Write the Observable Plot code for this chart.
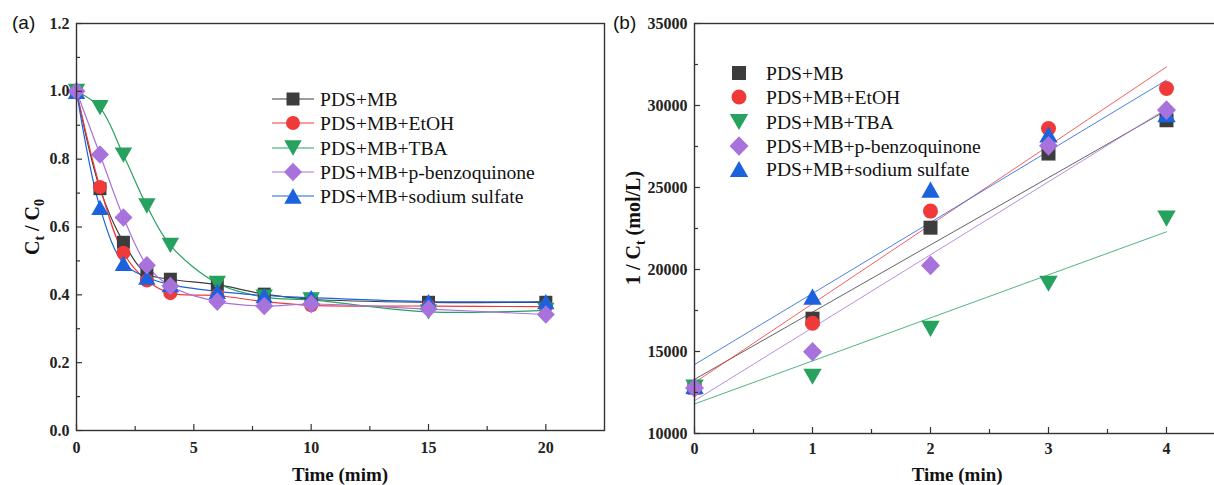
<!DOCTYPE html>
<html><head><meta charset="utf-8">
<script src="https://cdn.jsdelivr.net/npm/d3@7"></script>
<script src="https://cdn.jsdelivr.net/npm/@observablehq/plot@0.6"></script>
<style>
html,body{margin:0;padding:0;background:#fff;}
#wrap{position:relative;width:1214px;height:485px;overflow:hidden;background:#fff;}
#wrap svg{position:absolute;top:0;overflow:visible;}
</style></head><body><div id="wrap"></div>
<script>
// ---------- data ----------
const seriesNames = ["PDS+MB", "PDS+MB+EtOH", "PDS+MB+TBA", "PDS+MB+p-benzoquinone", "PDS+MB+sodium sulfate"];
const seriesColors = ["#3d3d3d", "#f03a3a", "#26a25e", "#a872dc", "#1c62de"];

// panel (a): Ct/C0 vs time (min)
const timeA = [0, 1, 2, 3, 4, 6, 8, 10, 15, 20];
const ratioMB      = [1.0, 0.713, 0.555, 0.462, 0.446, 0.430, 0.402, 0.387, 0.378, 0.378];
const ratioEtOH    = [1.0, 0.718, 0.524, 0.442, 0.405, 0.398, 0.380, 0.369, 0.367, 0.365];
const ratioTBA     = [1.0, 0.952, 0.812, 0.662, 0.546, 0.434, 0.393, 0.385, 0.350, 0.354];
const ratioPBQ     = [1.0, 0.814, 0.628, 0.487, 0.426, 0.380, 0.367, 0.373, 0.358, 0.342];
const ratioNa2SO4  = [1.0, 0.658, 0.493, 0.452, 0.430, 0.410, 0.398, 0.392, 0.380, 0.380];
const ticksXA = [0, 5, 10, 15, 20];
const minorXA = [2.5, 7.5, 12.5, 17.5];
const ticksYA = [0, 0.2, 0.4, 0.6, 0.8, 1.0, 1.2];
const minorYA = [0.1, 0.3, 0.5, 0.7, 0.9, 1.1];

// panel (b): 1/Ct vs time (min)
const timeB = [0, 1, 2, 3, 4];
const invMB      = [12800, 17000, 22550, 27070, 29100];
const invEtOH    = [12800, 16720, 23560, 28600, 31040];
const invTBA     = [12800, 13460, 16380, 19130, 23100];
const invPBQ     = [12770, 14990, 20250, 27540, 29720];
const invNa2SO4  = [12900, 18350, 24870, 28230, 29470];
// fitted lines: value at t = 0 and t = 4
const fitStartB = [13300, 13100, 11800, 12000, 14200];
const fitEndB   = [29700, 32350, 22300, 29800, 31550];
const ticksXB = [0, 1, 2, 3, 4];
const minorXB = [0.5, 1.5, 2.5, 3.5];
const ticksYB = [10000, 15000, 20000, 25000, 30000, 35000];
const minorYB = [12500, 17500, 22500, 27500, 32500];

// ---------- symbols ----------
const rad = (size) => Math.sqrt(size / Math.PI);
const symSquare = {draw(c, s) { const r = rad(s); c.rect(-r, -r, 2 * r, 2 * r); }};
const symCircle = {draw(c, s) { const r = rad(s); c.moveTo(r, 0); c.arc(0, 0, r, 0, 2 * Math.PI); }};
const symTriDown = {draw(c, s) { const r = rad(s), h = r * 0.88; c.moveTo(0, h); c.lineTo(r, -h); c.lineTo(-r, -h); c.closePath(); }};
const symDiamond = {draw(c, s) { const r = rad(s); c.moveTo(0, -r * 1.03); c.lineTo(r, 0); c.lineTo(0, r * 1.03); c.lineTo(-r, 0); c.closePath(); }};
const symTriUp = {draw(c, s) { const r = rad(s), h = r * 0.88; c.moveTo(0, -h); c.lineTo(r, h); c.lineTo(-r, h); c.closePath(); }};
const symbols = [symSquare, symCircle, symTriDown, symDiamond, symTriUp];
const symR = [6.5, 7, 8.7, 9, 8.7];

const seriesA = [ratioMB, ratioEtOH, ratioTBA, ratioPBQ, ratioNa2SO4];
const seriesB = [invMB, invEtOH, invTBA, invPBQ, invNa2SO4];
const drawOrder = [0, 1, 2, 4, 3];

const serif = "'Liberation Serif','Times New Roman',serif";
const sans = "'Liberation Sans',Arial,sans-serif";
const axisColor = "#333";

function rowsFor(times, vals) { return times.map((t, i) => ({t, v: vals[i]})); }

function symbolPath(sym, r) {
  const p = d3.path(); sym.draw(p, r * r * Math.PI); return p.toString();
}

// ---------- panel (a) ----------
const WA = 620, HA = 485, mLA = 76, mRA = 16, mTA = 23, mBA = 55;
const fwA = WA - mLA - mRA, fhA = HA - mTA - mBA;
const marksA = [];
for (const k of drawOrder) {
  marksA.push(Plot.line(rowsFor(timeA, seriesA[k]), {x: "t", y: "v", stroke: seriesColors[k], strokeWidth: 1.2, curve: "catmull-rom"}));
}
for (const k of drawOrder) {
  marksA.push(Plot.dot(rowsFor(timeA, seriesA[k]), {x: "t", y: "v", symbol: symbols[k], r: symR[k], fill: seriesColors[k], stroke: "none"}));
}
const plotA = Plot.plot({
  width: WA, height: HA,
  marginLeft: mLA, marginRight: mRA, marginTop: mTA, marginBottom: mBA,
  style: {fontFamily: serif, background: "transparent", color: "#222"},
  x: {domain: [0, 22.5]},
  y: {domain: [0, 1.2]},
  marks: [
    ...marksA,
    Plot.ruleY(ticksYA, {y: d => d, insetRight: fwA - 6, stroke: axisColor, strokeWidth: 1.2}),
    Plot.ruleY(minorYA, {y: d => d, insetRight: fwA - 4, stroke: axisColor, strokeWidth: 1.2}),
    Plot.ruleX(ticksXA, {x: d => d, insetTop: fhA - 6, stroke: axisColor, strokeWidth: 1.2}),
    Plot.ruleX(minorXA, {x: d => d, insetTop: fhA - 4, stroke: axisColor, strokeWidth: 1.2}),
    Plot.frame({stroke: axisColor, strokeWidth: 1.4}),
    Plot.axisX(ticksXA, {tickSize: 0, tickPadding: 11, fontSize: 16, fontWeight: "bold", fontFamily: serif, label: null, tickFormat: d => String(d)}),
    Plot.axisY(ticksYA, {tickSize: 0, tickPadding: 7, fontSize: 16, fontWeight: "bold", fontFamily: serif, label: null, tickFormat: d3.format(".1f")})
  ]
});
plotA.style.left = "0px";

// ---------- panel (b) ----------
const WB = 640, HB = 485, mLB = 94, mRB = 15, mTB = 23, mBB = 52;
const fwB = WB - mLB - mRB, fhB = HB - mTB - mBB;
const marksB = [];
for (const k of drawOrder) {
  marksB.push(Plot.line([{t: timeB[0], v: fitStartB[k]}, {t: timeB[timeB.length - 1], v: fitEndB[k]}], {x: "t", y: "v", stroke: seriesColors[k], strokeWidth: 1, strokeOpacity: 0.8}));
}
for (const k of drawOrder) {
  marksB.push(Plot.dot(rowsFor(timeB, seriesB[k]), {x: "t", y: "v", symbol: symbols[k], r: symR[k] + 0.5, fill: seriesColors[k], stroke: "none"}));
}
const plotB = Plot.plot({
  width: WB, height: HB,
  marginLeft: mLB, marginRight: mRB, marginTop: mTB, marginBottom: mBB,
  style: {fontFamily: serif, background: "transparent", color: "#222"},
  x: {domain: [0, 4.5]},
  y: {domain: [10000, 35000]},
  marks: [
    ...marksB,
    Plot.ruleY(ticksYB, {y: d => d, insetRight: fwB - 6, stroke: axisColor, strokeWidth: 1.2}),
    Plot.ruleY(minorYB, {y: d => d, insetRight: fwB - 4, stroke: axisColor, strokeWidth: 1.2}),
    Plot.ruleX(ticksXB, {x: d => d, insetTop: fhB - 6, stroke: axisColor, strokeWidth: 1.2}),
    Plot.ruleX(minorXB, {x: d => d, insetTop: fhB - 4, stroke: axisColor, strokeWidth: 1.2}),
    Plot.frame({stroke: axisColor, strokeWidth: 1.4}),
    Plot.axisX(ticksXB, {tickSize: 0, tickPadding: 9, fontSize: 16, fontWeight: "bold", fontFamily: serif, label: null, tickFormat: d => String(d)}),
    Plot.axisY(ticksYB, {tickSize: 0, tickPadding: 7, fontSize: 16, fontWeight: "bold", fontFamily: serif, label: null, tickFormat: d3.format("d")})
  ]
});
plotB.style.left = "600px";

const wrap = document.getElementById("wrap");
wrap.appendChild(plotA);
wrap.appendChild(plotB);

// ---------- titles, labels, legends ----------
function addText(svg, x, y, txt, opts = {}) {
  const t = d3.select(svg).append("text")
    .attr("x", x).attr("y", y)
    .attr("font-family", opts.family || serif)
    .attr("font-size", opts.size || 19)
    .attr("font-weight", opts.weight || "normal")
    .attr("fill", opts.fill || "#111")
    .attr("text-anchor", opts.anchor || "start")
    .style("font-family", opts.family || serif);
  if (txt) t.text(txt);
  if (opts.dy) t.attr("dy", opts.dy);
  if (opts.rotate) t.attr("transform", `rotate(${opts.rotate},${x},${y})`);
  return t;
}

// panel letters
addText(plotA, 12, 29, "(a)", {family: sans, size: 19});
addText(plotB, 13, 29, "(b)", {family: sans, size: 19});

// x titles
addText(plotA, mLA + fwA / 2, 481, "Time (mim)", {weight: "bold", anchor: "middle", size: 19});
addText(plotB, mLB + 2.23 * (fwB / 4.5), 481, "Time (min)", {weight: "bold", anchor: "middle", size: 19});

// y titles with subscripts
{
  const t = addText(plotA, 39, 227, "", {weight: "bold", anchor: "middle", size: 20, rotate: -90});
  t.append("tspan").text("C");
  t.append("tspan").attr("font-size", 14).attr("dy", 5).text("t");
  t.append("tspan").attr("dy", -5).text(" / C");
  t.append("tspan").attr("font-size", 14).attr("dy", 5).text("0");
}
{
  const t = addText(plotB, 40, 228, "", {weight: "bold", anchor: "middle", size: 20, rotate: -90});
  t.append("tspan").text("1 / C");
  t.append("tspan").attr("font-size", 14).attr("dy", 5).text("t");
  t.append("tspan").attr("dy", -5).text(" (mol/L)");
}

// legend (a): line + marker
const legYA = [99, 123, 148, 172, 196];
seriesNames.forEach((name, k) => {
  const g = d3.select(plotA).append("g");
  g.append("line").attr("x1", 272).attr("x2", 314).attr("y1", legYA[k]).attr("y2", legYA[k])
    .attr("stroke", seriesColors[k]).attr("stroke-width", 1.2);
  g.append("path").attr("d", symbolPath(symbols[k], symR[k]))
    .attr("transform", `translate(293,${legYA[k]})`).attr("fill", seriesColors[k]);
  addText(plotA, 320, legYA[k], name, {size: 19.6, dy: "0.34em"});
});

// legend (b): marker only
const legYB = [73, 97, 122, 146, 169];
seriesNames.forEach((name, k) => {
  d3.select(plotB).append("path").attr("d", symbolPath(symbols[k], symR[k] + 0.5))
    .attr("transform", `translate(139,${legYB[k]})`).attr("fill", seriesColors[k]);
  addText(plotB, 166, legYB[k], name, {size: 19.6, dy: "0.34em"});
});
</script>
</body></html>
